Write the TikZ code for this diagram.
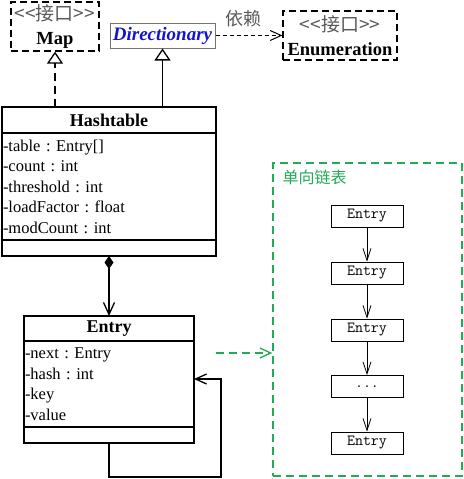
\documentclass[tikz,border=0pt]{standalone}
\usepackage{fontspec}
\setmainfont{Liberation Serif}
\newfontfamily\cjk{Noto Sans CJK SC}
\usepackage{tikz}
\usetikzlibrary{arrows.meta,positioning}
\definecolor{listgreen}{RGB}{34,170,85}
\definecolor{dictblue}{RGB}{20,20,205}
\frenchspacing
\tikzstyle{cls} = [draw,line width=1.3pt,inner sep=0pt,outer sep=0pt,minimum width=214pt]
\tikzstyle{attr} = [cls,inner xsep=1pt,align=left,text width=212pt,font=\fontsize{16.5}{20.5}\selectfont]
\tikzstyle{iface} = [draw,dash pattern=on 7pt off 4pt,line width=1.3pt,inner sep=0pt,minimum height=49pt,align=center,font=\fontsize{19}{24}\selectfont]
\tikzstyle{barb} = [-{Straight Barb[length=11pt,width=10pt]}]
\tikzstyle{inherit} = [-{Triangle[open,length=12pt,width=16pt]},line width=1.3pt]
\tikzstyle{cell} = [draw,line width=0.8pt,minimum width=72pt,minimum height=22pt,font=\ttfamily\fontsize{15.5}{16}\selectfont]
\newcommand{\iflabel}{\textcolor{black!65}{\cjk <\kern0pt<接口>\kern0pt>}}

\begin{document}
\begin{tikzpicture}[x=1pt,y=-1pt]
      \useasboundingbox(0,0)rectangle(463,479);
      \node[iface,minimum width=88pt](map)at(55,26.5){\iflabel\\\bfseries\fontsize{18.5}{24}\selectfont Map};
      \node[draw=black!55,line width=1pt,inner sep=0pt,minimum width=105pt,minimum height=25pt,text=dictblue,font=\bfseries\itshape\fontsize{19}{20}\selectfont](dict)at(162.5,35.5){Directionary};
      \node[iface,minimum width=114pt](enum)at(340,35.5){\iflabel\\\bfseries\fontsize{18.5}{24}\selectfont Enumeration};
      \draw[barb,dash pattern=on 4pt off 3pt,line width=1pt](dict)--(enum)node[pos=.42,above=5pt,text=black!65,font=\cjk\fontsize{18}{18}\selectfont](dep){依赖};
      \node[cls,minimum height=26pt,font=\bfseries\fontsize{18}{20}\selectfont](ht)at(109,120){Hashtable};
      \node[attr,minimum height=107pt,below=0pt of ht](htattr){-table : Entry[]\\-count : int\\-threshold : int\\-loadFactor : float\\-modCount : int};
      \node[cls,minimum height=16pt,below=0pt of htattr](htops){};
      \draw[inherit,dash pattern=on 8pt off 5pt](ht.north -| map.south)--(map);
      \draw[inherit](ht.north -| dict.south)--(dict);
      \node[cls,minimum width=170pt,minimum height=25pt,font=\bfseries\fontsize{18}{20}\selectfont](entry)at(109,328.5){Entry};
      \node[attr,text width=168pt,minimum width=170pt,minimum height=86pt,below=0pt of entry](entattr){-next : Entry\\-hash : int\\-key\\-value};
      \node[cls,minimum width=170pt,minimum height=16pt,below=0pt of entattr](entops){};
      \draw[line width=1.3pt,{Diamond[length=13pt,width=9pt]}-{Straight Barb[length=12pt,width=11pt]}](htops)--(entry);
      \coordinate(loop)at(221,477);
      \draw[barb,line width=1.3pt](entops.south)|-(loop)|-([yshift=5pt]entattr.east);
      \node[draw=listgreen,dash pattern=on 8pt off 5pt,line width=1.3pt,minimum width=189pt,minimum height=313pt](list)at(367.5,319.5){};
      \node[anchor=west,text=listgreen,font=\cjk\fontsize{16}{16}\selectfont](ltitle)at(279,177){单向链表};
      \node[cell](e1)at(367,216){Entry};
      \node[cell](e2)at(367,273){Entry};
      \node[cell](e3)at(367,330){Entry};
      \node[cell](e4)at(367,386.5){...};
      \node[cell](e5)at(367,443){Entry};
      \foreach \a/\b in {e1/e2,e2/e3,e3/e4,e4/e5}
        \draw[-{Straight Barb[length=12pt,width=8pt]},line width=0.8pt](\a)--(\b);
      \coordinate(gs)at(216,353);
      \draw[barb,listgreen,dash pattern=on 8pt off 5pt,line width=1.3pt](gs)--(gs -| list.west);
    \end{tikzpicture}
\end{document}
